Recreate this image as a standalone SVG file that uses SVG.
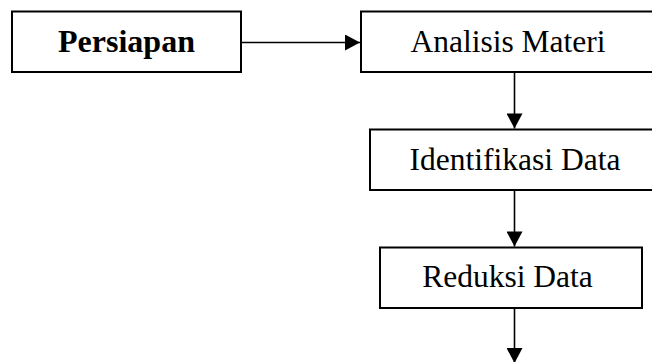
<svg xmlns="http://www.w3.org/2000/svg" width="652" height="362" viewBox="0 0 652 362">
  <style>
    .box { fill: #fff; stroke: #000; stroke-width: 2; }
    .lbl { font-family: "Liberation Serif", "Times New Roman", serif; font-size: 31.5px; fill: #000; text-anchor: middle; }
    .bold { font-weight: bold; font-size: 32px; }
    .conn { stroke: #000; stroke-width: 1.6; fill: none; marker-end: url(#arrow); }
  </style>
  <defs>
    <marker id="arrow" markerUnits="userSpaceOnUse" markerWidth="16" markerHeight="16" viewBox="0 0 15 16" refX="15" refY="8" orient="auto">
      <path d="M0,0 L15,8 L0,16 Z" fill="#000"/>
    </marker>
  </defs>
  <rect width="652" height="362" fill="#fff"/>
  <g id="connectors">
    <line class="conn" x1="241" y1="42.5" x2="360" y2="42.5"/>
    <line class="conn" x1="514.5" y1="72" x2="514.5" y2="128.5"/>
    <line class="conn" x1="514.5" y1="190" x2="514.5" y2="246.5"/>
    <line class="conn" x1="514.5" y1="308" x2="514.5" y2="363"/>
  </g>
  <g id="persiapan">
    <rect class="box" x="12" y="11.5" width="229" height="60.5"/>
    <text class="lbl bold" x="126.5" y="52">Persiapan</text>
  </g>
  <g id="analisis-materi">
    <rect class="box" x="361" y="11.5" width="320" height="60.5"/>
    <text class="lbl" x="508" y="52">Analisis Materi</text>
  </g>
  <g id="identifikasi-data">
    <rect class="box" x="370" y="129.5" width="320" height="60.5"/>
    <text class="lbl" x="515" y="170">Identifikasi Data</text>
  </g>
  <g id="reduksi-data">
    <rect class="box" x="380" y="247.5" width="262" height="60.5"/>
    <text class="lbl" x="507.5" y="287">Reduksi Data</text>
  </g>
</svg>
